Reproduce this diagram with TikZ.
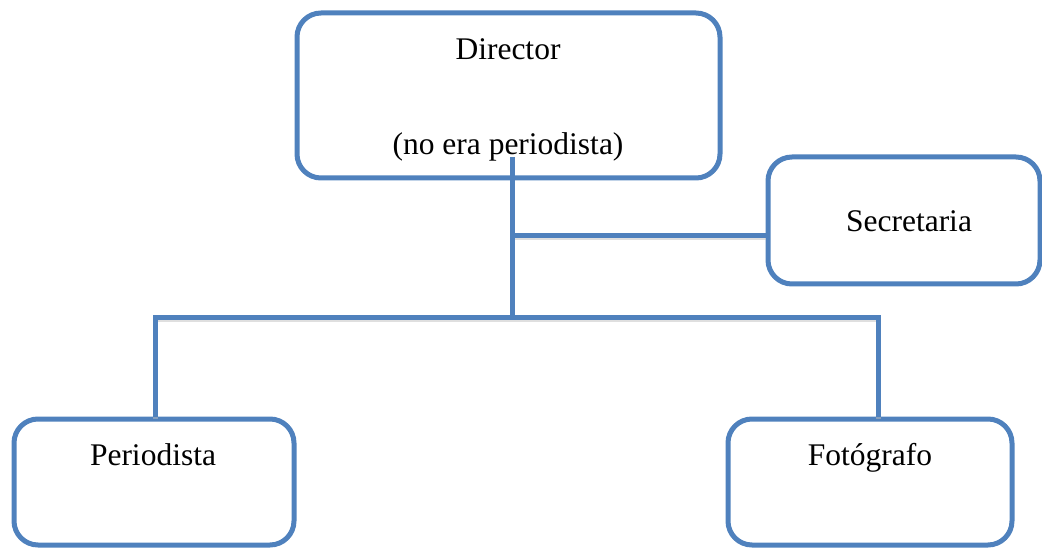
\documentclass[tikz,border=0pt]{standalone}
\usepackage{fontspec}
\setmainfont{Liberation Serif}
\usepackage{xcolor}
\usepackage{tikz}
\usetikzlibrary{positioning}
\usetikzlibrary{calc}
\definecolor{orgblue}{RGB}{79,129,189}

\tikzset{
  orgbox/.style={draw=orgblue, line width=5pt, rounded corners=24pt, inner sep=0pt},
  orgline/.style={draw=orgblue, line width=5pt},
  orgshade/.style={draw=black!25, line width=5pt, opacity=0.5, transform canvas={yshift=-2pt}},
  orglabel/.style={anchor=base, inner sep=0pt, font=\fontsize{31.5}{38}\selectfont}
}

\begin{document}
\begin{tikzpicture}[x=1pt, y=-1pt]
      \useasboundingbox (0,0) rectangle (1042,548);
      % boxes
      \node[orgbox, minimum width=423pt, minimum height=165pt] (dir) at (508.5,95.5) {};
      \node[orgbox, minimum width=272pt, minimum height=127pt] (sec) at (904,220.5) {};
      \node[orgbox, minimum width=280pt, minimum height=126pt] (per) at (154,482) {};
      \node[orgbox, minimum width=284pt, minimum height=126pt] (fot) at (870,482) {};
      % texts
      \node[orglabel] (dirname) at (508,60) {Director};
      \node[orglabel] (dirnote) at (508,155) {(no era periodista)};
      \node[orglabel] (secname) at (909,232) {Secretaria};
      \node[orglabel] (pername) at (153,465) {Periodista};
      \node[orglabel] (fotname) at (870,465) {Fotógrafo};
      % connectors
      \coordinate (top) at (512,157);
      \coordinate (tee) at (512,236);
      \coordinate (hub) at (512,317);
      \foreach \look in {orgshade, orgline} {
        \draw[\look] (top) -- (hub);
        \draw[\look] (tee) -- (tee -| sec.west);
        \draw[\look] ([xshift=1pt]per.north) |- (hub) -| ([xshift=8pt]fot.north);
      }
    \end{tikzpicture}
\end{document}
